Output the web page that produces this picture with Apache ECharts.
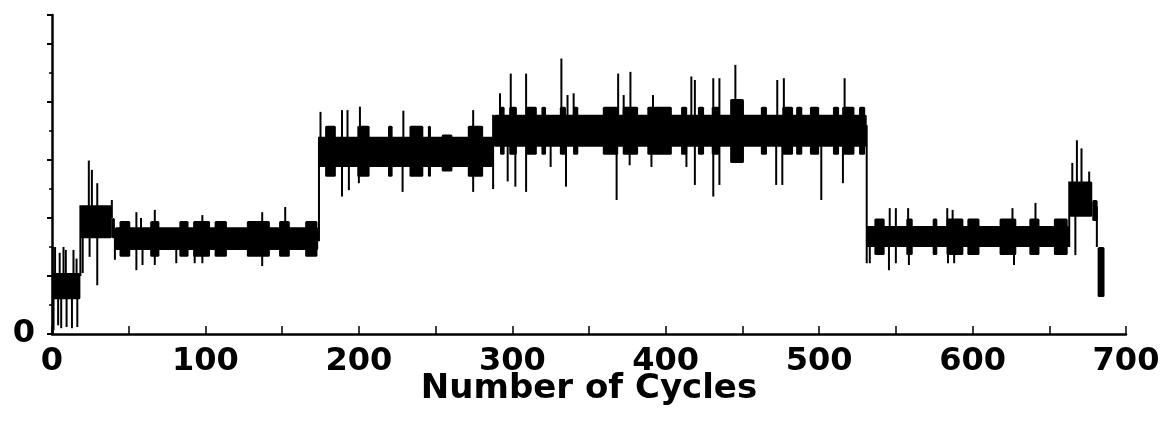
<!DOCTYPE html>
<html>
<head>
<meta charset="utf-8">
<script src="https://cdn.jsdelivr.net/npm/echarts@6/dist/echarts.min.js"></script>
<style>
  html, body { margin: 0; padding: 0; background: #fff; }
  #chart { width: 1164px; height: 423px; }
</style>
</head>
<body>
<div id="chart"></div>
<script>
// tick labels
const xLabels = [0, 100, 200, 300, 400, 500, 600, 700];
const yLabels = [0];

// main band of each plateau: [startCycle, endCycle, low, high]
const bands = [
  [0, 18.5, 0.6, 1.05],
  [18.5, 39, 1.65, 2.22],
  [39, 41, 1.65, 2.0],
  [41, 173.5, 1.45, 1.84],
  [173.5, 288, 2.88, 3.40],
  [288, 531, 3.23, 3.78],
  [531, 663, 1.5, 1.86],
  [663, 678, 2.02, 2.63],
  [678, 681.5, 1.95, 2.31],
  [681.5, 686, 0.64, 1.5]
];

// wider bursts on top of the band: [startCycle, endCycle, low, high]
const bursts = [
  [44, 51, 1.33, 1.95], [64, 70, 1.33, 1.95], [83, 89, 1.33, 1.95], [92, 103, 1.33, 1.95],
  [106, 114, 1.33, 1.95], [127, 142, 1.33, 1.95], [148, 155, 1.33, 1.95], [165, 173, 1.33, 1.95],
  [178, 185, 2.71, 3.59], [199, 207, 2.71, 3.59], [219, 222, 2.71, 3.59], [233, 242, 2.71, 3.59],
  [245, 247, 2.71, 3.59], [254, 261, 2.8, 3.44], [271, 281, 2.71, 3.59],
  [292, 295, 3.09, 3.92], [298, 303, 3.09, 3.92], [309, 316, 3.09, 3.92], [319, 322, 3.09, 3.92],
  [331, 335, 3.09, 3.92], [339.6, 343, 3.09, 3.92], [359, 369, 3.09, 3.92], [372, 382, 3.09, 3.92],
  [388, 404, 3.09, 3.92], [410, 414, 3.09, 3.92], [421, 425, 3.09, 3.92], [430, 435, 3.09, 3.92],
  [442, 451, 2.95, 4.05], [462, 466, 3.09, 3.92], [476, 483, 3.09, 3.92], [485, 489, 3.09, 3.92],
  [494, 500, 3.09, 3.92], [509, 513, 3.09, 3.92], [515, 523, 3.09, 3.92], [526, 530, 3.09, 3.92],
  [536, 542.7, 1.36, 1.99], [556.8, 561, 1.36, 1.99], [574, 577, 1.36, 1.99], [583, 594, 1.36, 1.99],
  [596.6, 604.5, 1.36, 1.99], [617.6, 628.5, 1.36, 1.99], [637, 643.6, 1.36, 1.99], [653, 662, 1.36, 1.99]
];

// single-cycle spikes and steps: [cycle, low, high]
const spikes = [
  [0.5, 0, 1.5], [2, 0.8, 1.5], [5, 0.8, 1.4], [7.5, 0.8, 1.5], [9, 0.8, 1.45], [14, 0.8, 1.45], [16, 0.8, 1.3],
  [1, 0.07, 0.8], [4, 0.15, 0.8], [6, 0.1, 0.8], [9.5, 0.12, 0.8], [13, 0.1, 0.8], [16.5, 0.12, 0.8],
  [18.5, 1.0, 2.22],
  [24, 2.0, 2.99], [26, 2.0, 2.83], [29.5, 2.0, 2.6], [39, 2.0, 2.31],
  [20, 1.05, 1.8], [24.5, 1.33, 1.8], [29.5, 0.84, 1.8], [41, 1.28, 1.8],
  [55, 1.7, 2.1], [58, 1.7, 2.0], [67, 1.7, 2.14], [93, 1.7, 1.93], [98, 1.7, 2.05], [137, 1.7, 2.1], [152, 1.7, 2.19],
  [55, 1.1, 1.6], [59, 1.19, 1.6], [67, 1.19, 1.6], [81, 1.22, 1.6], [93, 1.22, 1.6], [98, 1.22, 1.6], [137, 1.17, 1.6],
  [174, 1.6, 3.4],
  [175, 3.0, 3.83], [189, 3.0, 3.86], [192.6, 3.0, 3.86], [200.7, 3.0, 3.92], [229, 3.0, 3.85], [274.5, 3.0, 3.86],
  [189, 2.37, 3.0], [193.5, 2.48, 3.0], [200, 2.6, 3.0], [228.5, 2.45, 3.0], [274.5, 2.45, 3.0],
  [287.5, 2.5, 3.78],
  [292, 3.5, 4.15], [299, 3.5, 4.49], [309, 3.5, 4.49], [332, 3.5, 4.75], [336, 3.5, 4.12], [340, 3.5, 4.15],
  [369, 3.5, 4.49], [372.6, 3.5, 4.12], [377, 3.5, 4.52], [391.7, 3.5, 4.12], [416.7, 3.5, 4.44], [419, 3.5, 4.38],
  [431, 3.5, 4.41], [435, 3.5, 4.41], [445.4, 3.5, 4.64], [472.7, 3.5, 4.38], [477, 3.5, 4.41], [516.6, 3.5, 4.41],
  [297, 2.63, 3.5], [302, 2.54, 3.5], [309, 2.45, 3.5], [325, 2.88, 3.5], [335, 2.54, 3.5], [368, 2.31, 3.5],
  [376.5, 2.91, 3.5], [390.7, 2.88, 3.5], [413.5, 2.88, 3.5], [419, 2.57, 3.5], [431, 2.37, 3.5], [435, 2.57, 3.5],
  [472, 2.57, 3.5], [476, 2.57, 3.5], [501.4, 2.31, 3.5], [515.5, 2.6, 3.5],
  [531, 1.22, 3.6],
  [546, 1.7, 2.17], [550, 1.7, 2.17], [558, 1.7, 2.17], [583.5, 1.7, 2.17], [587, 1.7, 2.14], [626, 1.7, 2.17], [641, 1.7, 2.26],
  [533, 1.22, 1.7], [545.5, 1.1, 1.7], [550, 1.22, 1.7], [558.5, 1.19, 1.7], [584, 1.22, 1.7], [588, 1.22, 1.7], [627, 1.19, 1.7],
  [663, 1.5, 2.63],
  [665, 2.3, 2.95], [668, 2.3, 3.34], [671, 2.3, 3.2], [676, 2.3, 2.8],
  [667, 1.36, 2.3], [681, 1.5, 2.2]
];

const FONT = 'DejaVu Sans';

// block from [start, end, low, high]
function renderBlock(params, api) {
  const a = api.coord([api.value(0), api.value(3)]);
  const b = api.coord([api.value(1), api.value(2)]);
  return {
    type: 'rect',
    shape: { x: a[0], y: a[1], width: b[0] - a[0], height: b[1] - a[1], r: 1.5 },
    style: { fill: '#000' }
  };
}

// thin vertical spike from [cycle, low, high]
function renderSpike(params, api) {
  const top = api.coord([api.value(0), api.value(2)]);
  const bot = api.coord([api.value(0), api.value(1)]);
  return {
    type: 'rect',
    shape: { x: top[0] - 1, y: top[1], width: 2, height: bot[1] - top[1] },
    style: { fill: '#000' }
  };
}

const chart = echarts.init(document.getElementById('chart'));
chart.setOption({
  animation: false,
  backgroundColor: '#fff',
  grid: { left: 52, right: 38, top: 15, bottom: 89 },
  xAxis: {
    type: 'value',
    min: 0,
    max: 700,
    interval: 50,
    name: 'Number of Cycles',
    nameLocation: 'middle',
    nameGap: 38,
    nameMoveOverlap: false,
    nameTextStyle: { fontFamily: FONT, fontWeight: 'bold', fontSize: 34, color: '#000', verticalAlign: 'top' },
    axisLine: { lineStyle: { color: '#000', width: 2.5 } },
    axisTick: { inside: true, length: 8, lineStyle: { color: '#000', width: 1.5 } },
    axisLabel: {
      margin: 12,
      fontFamily: FONT,
      fontWeight: 'bold',
      fontSize: 32,
      color: '#000',
      formatter: v => (xLabels.includes(v) ? String(v) : '')
    },
    splitLine: { show: false }
  },
  yAxis: {
    type: 'value',
    min: 0,
    max: 5.5,
    interval: 1,
    axisLine: { show: true, lineStyle: { color: '#000', width: 2.5 } },
    axisTick: { show: true, length: 5, lineStyle: { color: '#000', width: 2 } },
    minorTick: { show: true, splitNumber: 2, length: 3, lineStyle: { color: '#000', width: 1.5 } },
    axisLabel: {
      margin: 17,
      fontFamily: FONT,
      fontWeight: 'bold',
      fontSize: 32,
      color: '#000',
      formatter: v => (yLabels.includes(v) ? String(v) : '')
    },
    splitLine: { show: false }
  },
  series: [
    { type: 'custom', renderItem: renderBlock, encode: { x: [0, 1], y: [2, 3] }, data: bands },
    { type: 'custom', renderItem: renderBlock, encode: { x: [0, 1], y: [2, 3] }, data: bursts },
    { type: 'custom', renderItem: renderSpike, encode: { x: 0, y: [1, 2] }, data: spikes }
  ]
});
</script>
</body>
</html>
